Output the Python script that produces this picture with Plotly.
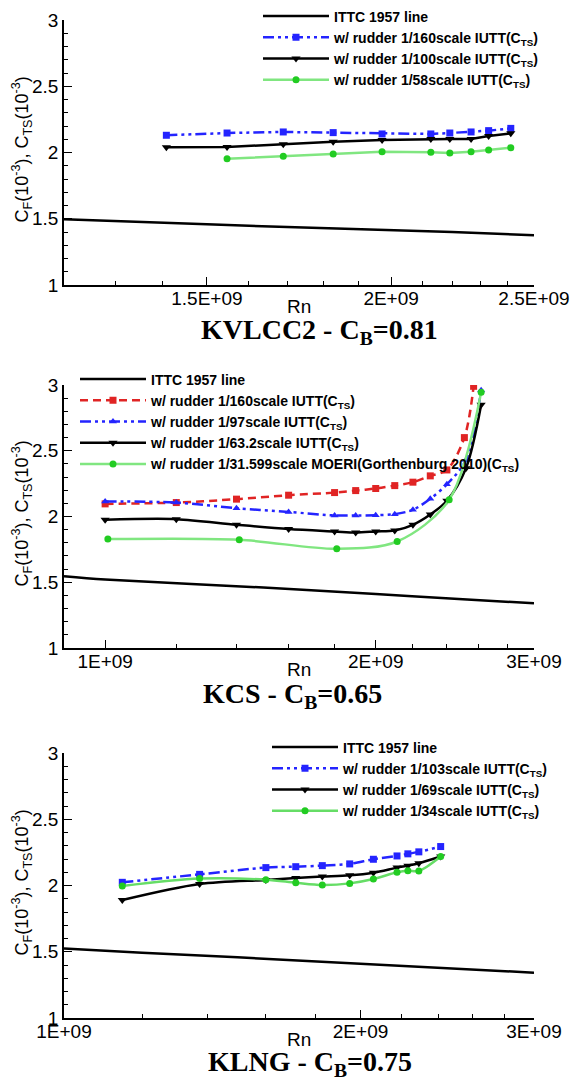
import math
import plotly.graph_objects as go

# ---------------- data ----------------
# Panel 1: KVLCC2 - CB=0.81
kv_ittc_rn = [1.2e9, 1.3e9, 1.5e9, 1.7e9, 2.0e9, 2.2e9, 2.5e9]
kv_ittc_cf = [1.496, 1.481, 1.458, 1.437, 1.415, 1.400, 1.375]
kv_rn = [1.408e9, 1.548e9, 1.690e9, 1.827e9, 1.972e9, 2.128e9, 2.192e9, 2.266e9, 2.329e9, 2.411e9]
kv_s160 = [2.130, 2.147, 2.155, 2.150, 2.140, 2.140, 2.147, 2.155, 2.165, 2.182]
kv_s100 = [2.039, 2.042, 2.062, 2.082, 2.094, 2.102, 2.102, 2.102, 2.125, 2.145]
kv_rn58 = [1.548e9, 1.690e9, 1.827e9, 1.972e9, 2.128e9, 2.192e9, 2.266e9, 2.329e9, 2.411e9]
kv_s58 = [1.953, 1.971, 1.989, 2.006, 2.001, 1.996, 2.006, 2.019, 2.036]

# Panel 2: KCS - CB=0.65
kc_ittc_rn = [0.9e9, 1.0e9, 1.5e9, 2.0e9, 2.5e9, 3.0e9]
kc_ittc_cf = [1.545, 1.520, 1.460, 1.410, 1.370, 1.340]
kc_rn160 = [1.0e9, 1.2e9, 1.4e9, 1.6e9, 1.8e9, 1.9e9, 2.0e9, 2.1e9, 2.2e9, 2.3e9, 2.4e9, 2.51e9, 2.57e9]
kc_s160 = [2.096, 2.106, 2.132, 2.162, 2.182, 2.197, 2.213, 2.235, 2.261, 2.309, 2.354, 2.600, 2.990]
kc_rn97 = [1.0e9, 1.2e9, 1.4e9, 1.6e9, 1.8e9, 1.9e9, 2.0e9, 2.1e9, 2.2e9, 2.3e9, 2.4e9, 2.52e9, 2.62e9]
kc_s97 = [2.114, 2.106, 2.063, 2.035, 2.008, 2.008, 2.010, 2.018, 2.051, 2.135, 2.245, 2.430, 2.960]
kc_rn63 = [1.0e9, 1.2e9, 1.4e9, 1.6e9, 1.8e9, 1.9e9, 2.0e9, 2.1e9, 2.2e9, 2.3e9, 2.4e9, 2.52e9, 2.62e9]
kc_s63 = [1.975, 1.980, 1.937, 1.904, 1.886, 1.878, 1.886, 1.894, 1.937, 2.015, 2.120, 2.367, 2.850]
kc_rn31 = [1.007e9, 1.41e9, 1.81e9, 2.113e9, 2.414e9, 2.62e9]
kc_s31 = [1.828, 1.823, 1.754, 1.810, 2.127, 2.944]

# Panel 3: KLNG - CB=0.75
kl_ittc_rn = [1.0e9, 1.2e9, 1.5e9, 2.0e9, 2.5e9, 3.0e9]
kl_ittc_cf = [1.525, 1.492, 1.458, 1.412, 1.372, 1.342]
kl_rn = [1.146e9, 1.373e9, 1.603e9, 1.719e9, 1.829e9, 1.950e9, 2.061e9, 2.178e9, 2.234e9, 2.292e9, 2.412e9]
kl_s103 = [2.024, 2.084, 2.135, 2.142, 2.150, 2.163, 2.198, 2.223, 2.239, 2.254, 2.294]
kl_s69 = [1.890, 2.011, 2.042, 2.057, 2.067, 2.077, 2.097, 2.135, 2.150, 2.168, 2.219]
kl_s34 = [1.996, 2.052, 2.044, 2.021, 2.004, 2.016, 2.049, 2.100, 2.112, 2.110, 2.219]

# tick labels
yticks = [1, 1.5, 2, 2.5, 3]
yticktext = ["1", "1.5", "2", "2.5", "3"]
kv_xticks = [1.5e9, 2.0e9, 2.5e9]
kv_xticktext = ["1.5E+09", "2E+09", "2.5E+09"]
kv_xminor = [1.3e9, 1.4e9, 1.6e9, 1.7e9, 1.8e9, 1.9e9, 2.1e9, 2.2e9, 2.3e9, 2.4e9]
kc_xticks = [1.0e9, 2.0e9, 3.0e9]
kc_xticktext = ["1E+09", "2E+09", "3E+09"]
kc_xminor = [1.2e9, 1.4e9, 1.6e9, 1.8e9, 2.2e9, 2.4e9, 2.6e9, 2.8e9]
kl_xticks = [1.0e9, 2.0e9, 3.0e9]
kl_xticktext = ["1E+09", "2E+09", "3E+09"]
kl_xminor = [1.2e9, 1.4e9, 1.6e9, 1.8e9, 2.2e9, 2.4e9, 2.6e9, 2.8e9]

# ---------------- styles ----------------
W, H = 570, 1084
BLUE = "#2424ff"
RED = "#e02424"
GREEN_L = "#80e680"
GREEN_M = "#22cc22"
DASHDOTDOT = "11px,4px,3px,4px,3px,4px"
SANS = "Liberation Sans, Arial, sans-serif"
SERIF = "Liberation Serif, Times New Roman, serif"
CTS = "C<sub>TS</sub>"

fig = go.Figure()


def add(x, y, name, xa, ya, leg, color, dash="solid", symbol=None, mcolor=None, shape="linear", msize=7):
    mode = "lines+markers" if symbol else "lines"
    fig.add_trace(go.Scatter(
        x=x, y=y, name=name, mode=mode, xaxis=xa, yaxis=ya, legend=leg,
        line=dict(color=color, width=2.5, dash=dash, shape=shape, smoothing=0.9),
        marker=dict(symbol=symbol or "circle", size=msize, color=mcolor or color,
                    line=dict(width=0)),
    ))


# panel 1
add(kv_ittc_rn, kv_ittc_cf, "ITTC 1957 line", "x", "y", "legend", "black")
add(kv_rn, kv_s160, "w/ rudder 1/160scale IUTT(" + CTS + ")", "x", "y", "legend", BLUE, DASHDOTDOT, "square")
add(kv_rn, kv_s100, "w/ rudder 1/100scale IUTT(" + CTS + ")", "x", "y", "legend", "black", "solid", "triangle-down", msize=8)
add(kv_rn58, kv_s58, "w/ rudder 1/58scale IUTT(" + CTS + ")", "x", "y", "legend", GREEN_L, "solid", "circle", GREEN_M)

# panel 2
add(kc_ittc_rn, kc_ittc_cf, "ITTC 1957 line", "x2", "y2", "legend2", "black", shape="spline")
add(kc_rn160, kc_s160, "w/ rudder 1/160scale IUTT(" + CTS + ")", "x2", "y2", "legend2", RED, "8px,5px", "square", shape="spline")
add(kc_rn97, kc_s97, "w/ rudder 1/97scale IUTT(" + CTS + ")", "x2", "y2", "legend2", BLUE, DASHDOTDOT, "triangle-up", shape="spline")
add(kc_rn63, kc_s63, "w/ rudder 1/63.2scale IUTT(" + CTS + ")", "x2", "y2", "legend2", "black", "solid", "triangle-down", shape="spline", msize=8)
add(kc_rn31, kc_s31, "w/ rudder 1/31.599scale MOERI(Gorthenburg 2010)(" + CTS + ")", "x2", "y2", "legend2",
    GREEN_L, "solid", "circle", GREEN_M, shape="spline")

# panel 3
add(kl_ittc_rn, kl_ittc_cf, "ITTC 1957 line", "x3", "y3", "legend3", "black")
add(kl_rn, kl_s103, "w/ rudder 1/103scale IUTT(" + CTS + ")", "x3", "y3", "legend3", BLUE, DASHDOTDOT, "square", shape="spline")
add(kl_rn, kl_s69, "w/ rudder 1/69scale IUTT(" + CTS + ")", "x3", "y3", "legend3", "black", "solid", "triangle-down", shape="spline", msize=8)
add(kl_rn, kl_s34, "w/ rudder 1/34scale IUTT(" + CTS + ")", "x3", "y3", "legend3", "#66dd66", "solid", "circle", GREEN_M, shape="spline")

XL, XR = 64, 534
XDOM = [XL / W, XR / W]
panels = [
    # (suffix, plot top/bottom px, xrange, ticks, ticktext, minor)
    ("", (20, 285), (1.2e9, 2.5e9), kv_xticks, kv_xticktext, kv_xminor),
    ("2", (385, 648), (0.9e9, 3.0e9), kc_xticks, kc_xticktext, kc_xminor),
    ("3", (753, 1018), (1.0e9, 3.0e9), kl_xticks, kl_xticktext, kl_xminor),
]

tickfont = dict(family=SANS, size=19, color="black")
layout = dict(
    width=W, height=H, margin=dict(l=0, r=0, t=0, b=0),
    paper_bgcolor="white", plot_bgcolor="white", showlegend=True,
)
annotations = []
for suf, (ytop, ybot), xr, xt, xtt, xm in panels:
    layout["xaxis" + suf] = dict(
        domain=XDOM, anchor="y" + suf, type="log",
        range=[math.log10(xr[0]), math.log10(xr[1])],
        tickvals=xt, ticktext=xtt, ticks="inside", ticklen=8, tickwidth=1.2, tickcolor="black",
        minor=dict(tickvals=xm, ticks="inside", ticklen=4, tickwidth=1, tickcolor="black"),
        showline=True, linecolor="black", linewidth=1.5, showgrid=False, zeroline=False,
        tickfont=tickfont, ticklabelstandoff=-5, automargin=False,
    )
    layout["yaxis" + suf] = dict(
        domain=[1 - ybot / H, 1 - ytop / H], anchor="x" + suf, range=[1, 3],
        tickvals=yticks, ticktext=yticktext, ticks="inside", ticklen=8, tickwidth=1.2, tickcolor="black",
        minor=dict(dtick=0.1, ticks="inside", ticklen=4, tickwidth=1, tickcolor="black"),
        showline=True, linecolor="black", linewidth=1.5, showgrid=False, zeroline=False,
        tickfont=tickfont, automargin=False,
    )
    # axis titles
    annotations.append(dict(
        text="Rn", x=(XL + XR) / 2 / W, y=1 - (ybot + 21) / H, xref="paper", yref="paper",
        showarrow=False, xanchor="center", yanchor="middle",
        font=dict(family=SANS, size=19, color="black")))
    annotations.append(dict(
        text="C<sub>F</sub>(10<sup>-3</sup>), C<sub>TS</sub>(10<sup>-3</sup>)",
        x=22 / W, y=1 - ((ytop + ybot) / 2 - 3) / H, xref="paper", yref="paper", textangle=-90,
        showarrow=False, xanchor="center", yanchor="middle",
        font=dict(family=SANS, size=18, color="black")))

legfont = dict(family=SANS, size=14, color="black", weight="bold")
for key, lx, ltop in [("legend", 258, 0.5), ("legend2", 75, 363.5), ("legend3", 267, 731.5)]:
    layout[key] = dict(x=lx / W, y=1 - ltop / H, xanchor="left", yanchor="top", font=legfont,
                       bgcolor="rgba(0,0,0,0)", itemwidth=66, tracegroupgap=0)

titles = [("KVLCC2 - C<sub>B</sub>=0.81", 319, 331),
          ("KCS - C<sub>B</sub>=0.65", 292, 695),
          ("KLNG - C<sub>B</sub>=0.75", 310, 1063)]
for t, cx, cy in titles:
    annotations.append(dict(
        text=t, x=cx / W, y=1 - cy / H, xref="paper", yref="paper", showarrow=False,
        xanchor="center", yanchor="middle",
        font=dict(family=SERIF, size=28, color="black", weight="bold")))
layout["annotations"] = annotations

fig.update_layout(**layout)
fig.write_html("out.html", config={"displayModeBar": False},
               post_script="document.body.style.margin='0px';")
